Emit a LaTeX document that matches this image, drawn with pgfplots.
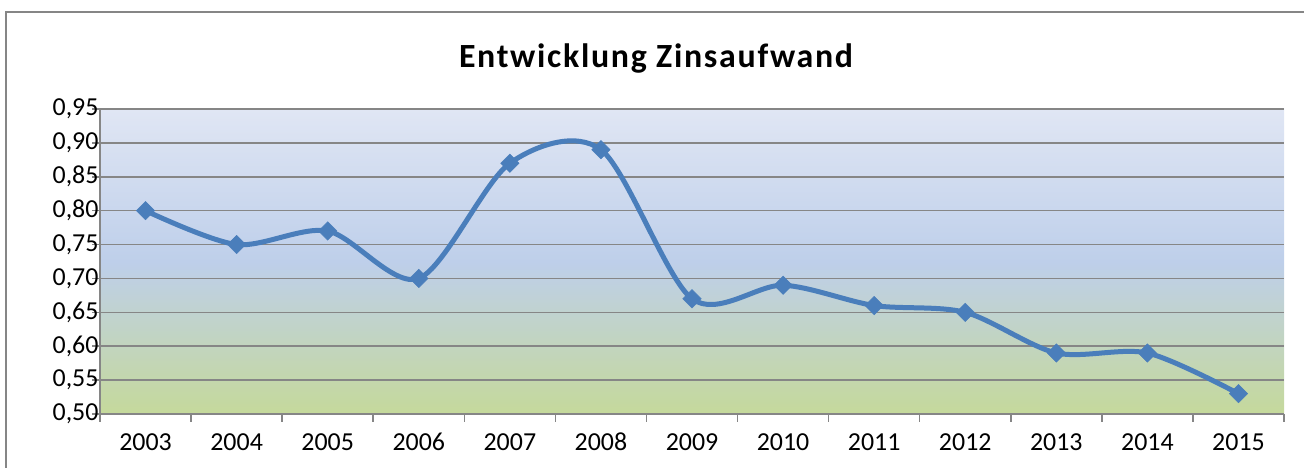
\documentclass[border=0pt]{standalone}
\usepackage{fontspec}
\setmainfont{Carlito}
\usepackage{pgfplots}
\pgfplotsset{compat=1.18}
\definecolor{linecol}{RGB}{74,126,187}
\definecolor{gridcol}{RGB}{134,134,134}
\definecolor{bgtop}{RGB}{224,230,244}
\definecolor{bgmid}{RGB}{190,207,234}
\definecolor{bgbot}{RGB}{197,217,155}
\begin{document}
\begin{tikzpicture}[x=1bp,y=1bp]
\useasboundingbox (0,0) rectangle (1304,468);
\draw[gridcol, line width=2bp] (6,-20) -- (6,455.5) -- (1320,455.5);
\node[font=\fontsize{34}{38}\selectfont\bfseries\addfontfeatures{LetterSpace=5}] at (656,410) {Entwicklung Zinsaufwand};
\begin{axis}[
  at={(100bp,54bp)}, anchor=south west,
  scale only axis, width=1184bp, height=305bp,
  xmin=-0.5, xmax=12.5, ymin=0.5, ymax=0.95,
  axis x line*=bottom, axis y line*=left,
  axis line style={gridcol, line width=1.5bp, -},
  xtick={0,...,12},
  xticklabels={2003,2004,2005,2006,2007,2008,2009,2010,2011,2012,2013,2014,2015},
  major x tick style={draw=none},
  minor xtick={-0.5,0.5,...,12.5},
  minor x tick style={gridcol, line width=1.5bp},
  minor tick length=8bp,
  ytick={0.5,0.55,...,0.951},
  major y tick style={gridcol, line width=1.5bp},
  major tick length=8bp,
  tick align=outside,
  ymajorgrids, grid style={gridcol, line width=1.5bp},
  axis background/.style={top color=bgtop, bottom color=bgbot, middle color=bgmid},
  ticklabel style={font=\fontsize{26}{30}\selectfont},
  /pgf/number format/fixed, /pgf/number format/fixed zerofill,
  /pgf/number format/precision=2, /pgf/number format/use comma,
  /pgf/number format/assume math mode=true,
  xticklabel style={text height=17bp, text depth=0bp, yshift=-8bp},
  yticklabel style={xshift=10bp},
]
\addplot[linecol, line width=5bp, smooth, mark=square*, mark size=6.5bp, mark options={rotate=45, fill=linecol, line width=0.5bp}] coordinates {
(0,0.80) (1,0.75) (2,0.77) (3,0.70) (4,0.87) (5,0.89) (6,0.67) (7,0.69) (8,0.66) (9,0.65) (10,0.59) (11,0.59) (12,0.53)};
\end{axis}
\end{tikzpicture}
\end{document}
